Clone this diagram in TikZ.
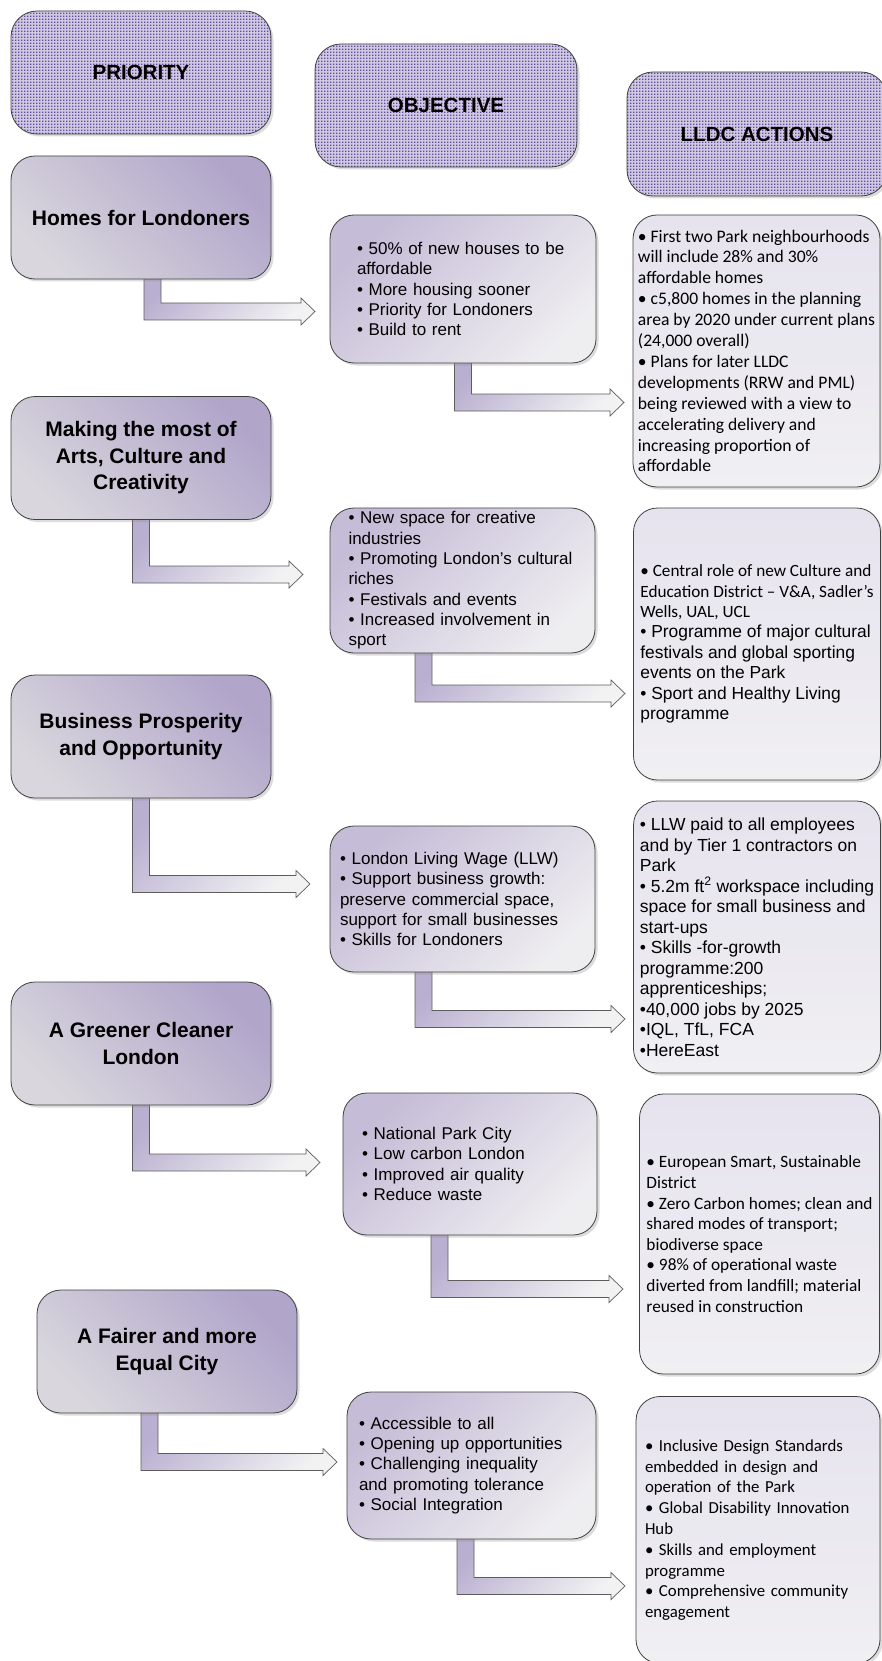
\documentclass[tikz,border=0pt]{standalone}
\usepackage{fontspec}
\setmainfont{Liberation Sans}
\newfontfamily\calfont{Carlito}
\usetikzlibrary{calc}
\usetikzlibrary{backgrounds}
\usetikzlibrary{patterns}
\usetikzlibrary{shadows}

\definecolor{boxline}{HTML}{404040}
\definecolor{hdback}{HTML}{D0C8E2}
\definecolor{hddot}{HTML}{5F4C99}
\definecolor{priotop}{HTML}{B1A5CA}
\definecolor{priobot}{HTML}{D9D7DD}
\definecolor{objtop}{HTML}{C5BCD7}
\definecolor{objbot}{HTML}{EEEDF0}
\definecolor{acttop}{HTML}{E6E3EE}
\definecolor{actbot}{HTML}{F0EFF2}
\definecolor{arrtop}{HTML}{B9AFD0}
\definecolor{arrbot}{HTML}{F2F2F3}

\pgfdeclarepatternformonly{hdots}{\pgfqpoint{0pt}{0pt}}{\pgfqpoint{3pt}{3pt}}{\pgfqpoint{3pt}{3pt}}%
  {\pgfpathrectangle{\pgfqpoint{0pt}{0pt}}{\pgfqpoint{1.7pt}{1.7pt}}\pgfusepath{fill}}

% fat bent arrow: from a box bottom down, then right to a tip
\newcommand{\bentarrow}[2]{%
  \path[bentarr] let \p1=(#1), \p2=(#2) in
    (\x1-8.5pt,\y1+6pt) -- (\x1-8.5pt,\y2-8.5pt) -- (\x2-14pt,\y2-8.5pt)
    -- (\x2-14pt,\y2-13.5pt) -- (\x2,\y2) -- (\x2-14pt,\y2+13.5pt)
    -- (\x2-14pt,\y2+8.5pt) -- (\x1+8.5pt,\y2+8.5pt) -- (\x1+8.5pt,\y1+6pt) -- cycle;}

\begin{document}
\begin{tikzpicture}[x=1pt,y=-1pt]
  \tikzstyle{boxshadow}=[drop shadow={shadow xshift=2.5pt,shadow yshift=-2.5pt,fill=black!45,opacity=0.3}]
  \tikzstyle{hdrbox}=[boxshadow,rounded corners=26pt,draw=boxline,line width=0.8pt,
    preaction={fill=hdback},pattern=hdots,pattern color=hddot,
    minimum width=260pt,minimum height=123pt,font=\fontsize{20.5}{25}\selectfont\bfseries]
  \tikzstyle{prio}=[boxshadow,rounded corners=24pt,draw=boxline,line width=0.8pt,
    top color=priotop,bottom color=priobot,shading angle=-45,
    minimum width=260pt,minimum height=123pt,align=center,
    font=\fontsize{21}{26.5}\selectfont\bfseries]
  \tikzstyle{objbox}=[boxshadow,rounded corners=24pt,draw=boxline,line width=0.8pt,
    top color=objtop,bottom color=objbot,shading angle=45,
    inner xsep=0pt,align=left,font=\fontsize{17}{20.3}\selectfont]
  \tikzstyle{actbox}=[boxshadow,rounded corners=24pt,draw=boxline,line width=0.8pt,
    top color=acttop,bottom color=actbot,inner xsep=0pt,align=left]
  \tikzstyle{bentarr}=[draw=boxline!85,line width=0.7pt,
    top color=arrtop,bottom color=arrbot,shading angle=45]

  \useasboundingbox (0,0) rectangle (881,1661);

  % column heads
  \node[hdrbox] (HPri) at (141,72.5) {PRIORITY};
  \node[hdrbox,minimum width=262pt] (HObj) at (446,105.5) {OBJECTIVE};
  \node[hdrbox,minimum height=124pt] (HAct) at (757,134) {LLDC ACTIONS};

  % priorities
  \node[prio] (P1) at (141,217.5) {Homes for Londoners};
  \node[prio] (P2) at (141,458) {Making the most of\\Arts, Culture and\\Creativity};
  \node[prio] (P3) at (141,736.5) {Business Prosperity\\and Opportunity};
  \node[prio] (P4) at (141,1043.5) {A Greener Cleaner\\London};
  \node[prio] (P5) at (167,1351.5) {A Fairer and more\\Equal City};

  % objectives
  \node[objbox,minimum width=266pt,minimum height=148pt,text width=212pt] (O1) at (463,289)
    {• 50\% of new houses to be\\affordable\\• More housing sooner\\• Priority for Londoners\\• Build to rent};
  \node[objbox,minimum width=265pt,minimum height=145pt,text width=228pt] (O2) at (462.5,580.5)
    {• New space for creative\\industries\\• Promoting London’s cultural\\riches\\• Festivals and events\\• Increased involvement in\\sport};
  \node[objbox,minimum width=265pt,minimum height=146pt,text width=245pt] (O3) at (462.5,899)
    {• London Living Wage (LLW)\\• Support business growth:\\preserve commercial space,\\support for small businesses\\• Skills for Londoners};
  \node[objbox,minimum width=254pt,minimum height=142pt,text width=216pt] (O4) at (470,1164)
    {• National Park City\\• Low carbon London\\• Improved air quality\\• Reduce waste};
  \node[objbox,minimum width=249pt,minimum height=147pt,text width=225pt] (O5) at (471.5,1465.5)
    {• Accessible to all\\• Opening up opportunities\\• Challenging inequality\\and promoting tolerance\\• Social Integration};

  % LLDC actions
  \node[actbox,minimum width=247pt,minimum height=272pt,font=\calfont\fontsize{17.6}{20.9}\selectfont] (A1) at (756.5,351)
    {• First two Park neighbourhoods\\will include 28\% and 30\%\\affordable homes\\• c5,800 homes in the planning\\area by 2020 under current plans\\(24,000 overall)\\• Plans for later LLDC\\developments (RRW and PML)\\being reviewed with a view to\\accelerating delivery and\\increasing proportion of\\affordable};
  \node[actbox,minimum width=247pt,minimum height=272pt,font=\fontsize{17.4}{20.4}\selectfont] (A2) at (757,644)
    {\calfont\fontsize{17.2}{20.4}\selectfont • Central role of new Culture and\\\calfont\fontsize{17.2}{20.4}\selectfont Education District – V\&A, Sadler’s\\\calfont\fontsize{17.2}{20.4}\selectfont Wells, UAL, UCL\\• Programme of major cultural\\festivals and global sporting\\events on the Park\\• Sport and Healthy Living\\programme};
  \node[actbox,minimum width=247pt,minimum height=272pt,font=\fontsize{17.5}{20.5}\selectfont] (A3) at (757,937)
    {• LLW paid to all employees\\and by Tier 1 contractors on\\Park\\• 5.2m ft\textsuperscript{2} workspace including\\space for small business and\\start-ups\\• Skills -for-growth\\programme:200\\apprenticeships;\\•40,000 jobs by 2025\\•IQL, TfL, FCA\\•HereEast};
  \node[actbox,minimum width=240pt,minimum height=280pt,font=\calfont\fontsize{17.3}{20.6}\selectfont] (A4) at (759.5,1234)
    {• European Smart, Sustainable\\District\\• Zero Carbon homes; clean and\\shared modes of transport;\\biodiverse space\\• 98\% of operational waste\\diverted from landfill; material\\reused in construction};
  \node[actbox,minimum width=244pt,minimum height=267pt,text width=226pt,font=\calfont\fontsize{16.8}{20.8}\selectfont] (A5) at (758,1530)
    {• Inclusive Design Standards\\embedded in design and\\operation of the Park\\• Global Disability Innovation\\Hub\\• Skills and employment\\programme\\• Comprehensive community\\engagement};

  % arrow tips
  \coordinate (t1) at (315,311.5);
  \coordinate (t2) at (624,402.5);
  \coordinate (t3) at (303,574.5);
  \coordinate (t4) at (625,693.5);
  \coordinate (t5) at (310,884);
  \coordinate (t6) at (625,1019);
  \coordinate (t7) at (320,1162.5);
  \coordinate (t8) at (623,1289);
  \coordinate (t9) at (337,1462);
  \coordinate (t10) at (625,1586);

  \begin{scope}[on background layer]
    \bentarrow{[xshift=11.5pt]P1.south}{t1}
    \bentarrow{O1.south}{t2}
    \bentarrow{P2.south}{t3}
    \bentarrow{[xshift=-39pt]O2.south}{t4}
    \bentarrow{P3.south}{t5}
    \bentarrow{[xshift=-39pt]O3.south}{t6}
    \bentarrow{P4.south}{t7}
    \bentarrow{[xshift=-30.5pt]O4.south}{t8}
    \bentarrow{[xshift=-17.5pt]P5.south}{t9}
    \bentarrow{[xshift=-6pt]O5.south}{t10}
  \end{scope}
\end{tikzpicture}
\end{document}
